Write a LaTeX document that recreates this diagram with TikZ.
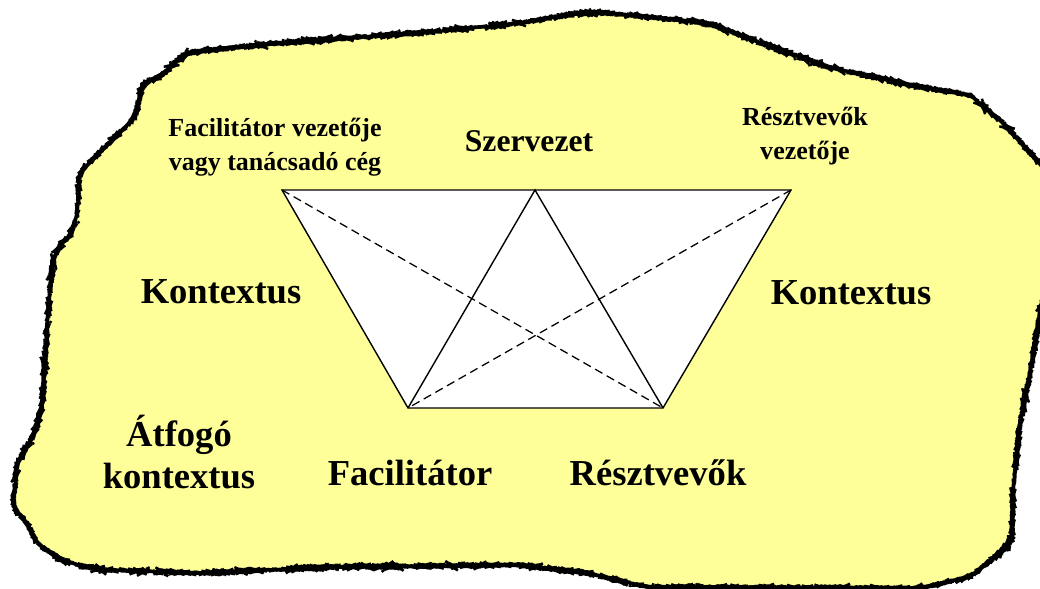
\documentclass[tikz,border=0pt]{standalone}
\usepackage{fontspec}
\setmainfont{Liberation Serif}
\usepackage{tikz}
\usetikzlibrary{positioning,decorations.pathmorphing}
\definecolor{blobyellow}{HTML}{FFFF99}

\begin{document}
\begin{tikzpicture}[x=0.025cm, y=-0.025cm, every node/.style={align=center, inner sep=0pt},
  small/.style={font=\fontsize{18.5}{24}\selectfont\bfseries},
  mid/.style={font=\fontsize{22.5}{27}\selectfont\bfseries},
  big/.style={font=\fontsize{26}{29.5}\selectfont\bfseries},
  side/.style={line width=1pt},
  diag/.style={line width=0.9pt, dash pattern=on 6pt off 3.5pt}]
\useasboundingbox (0,0) rectangle (1040,589);
\clip (0,0) rectangle (1040,589);
% context blob
\pgfmathsetseed{7}
\draw[line width=1.7pt, fill=blobyellow, rounded corners=6pt, decorate,
  decoration={random steps, segment length=1.2pt, amplitude=0.35pt},
  dash pattern=on 3pt off 0.5pt]
  (520,23) -- (580,13) -- (610,13) -- (707,23) -- (753,40) -- (827,67) -- (920,87)
  -- (970,95) -- (1003,123) -- (1046,170) -- (1046,280) -- (1037,333) -- (1030,373)
  -- (1020,423) -- (1013,490) -- (1012,537) -- (1007,547) -- (970,577) -- (920,588)
  -- (647,587) -- (587,573) -- (520,565) -- (333,567) -- (200,573) -- (100,570)
  -- (60,560) -- (37,543) -- (27,523) -- (13,507) -- (17,463) -- (33,437) -- (42,407)
  -- (45,357) -- (50,290) -- (53,260) -- (60,245) -- (72,233) -- (77,213) -- (80,172)
  -- (135,117) -- (140,97) -- (143,83) -- (160,77) -- (180,58) -- (190,52) -- (290,42)
  -- (417,33) -- cycle;
% corners
\coordinate (facvez) at (282,190);
\coordinate (szerv) at (535,190);
\coordinate (resvez) at (791,190);
\coordinate (fac) at (408,408);
\coordinate (resz) at (663,408);
\fill[white] (facvez) -- (resvez) -- (resz) -- (fac) -- cycle;
\draw[side] (facvez) -- (resvez) -- (resz) -- (fac) -- cycle;
\draw[side] (fac) -- (szerv) -- (resz);
\draw[diag] (facvez) -- (resz);
\draw[diag] (resvez) -- (fac);
% labels
\node[small] (lfacvez) at (275,147) {Facilitátor vezetője\\vagy tanácsadó cég};
\node[mid] (lszerv) at (529,141) {Szervezet};
\node[small] (lresvez) at (805,136) {Résztvevők\\vezetője};
\node[big] (lkontl) at (221,292) {Kontextus};
\node[big] (lkontr) at (851,293) {Kontextus};
\node[big] (latfogo) at (179,452) {Átfogó\\kontextus};
\node[big] (lfac) at (410,473) {Facilitátor};
\node[big] (lresz) at (658,473) {Résztvevők};
\end{tikzpicture}
\end{document}
